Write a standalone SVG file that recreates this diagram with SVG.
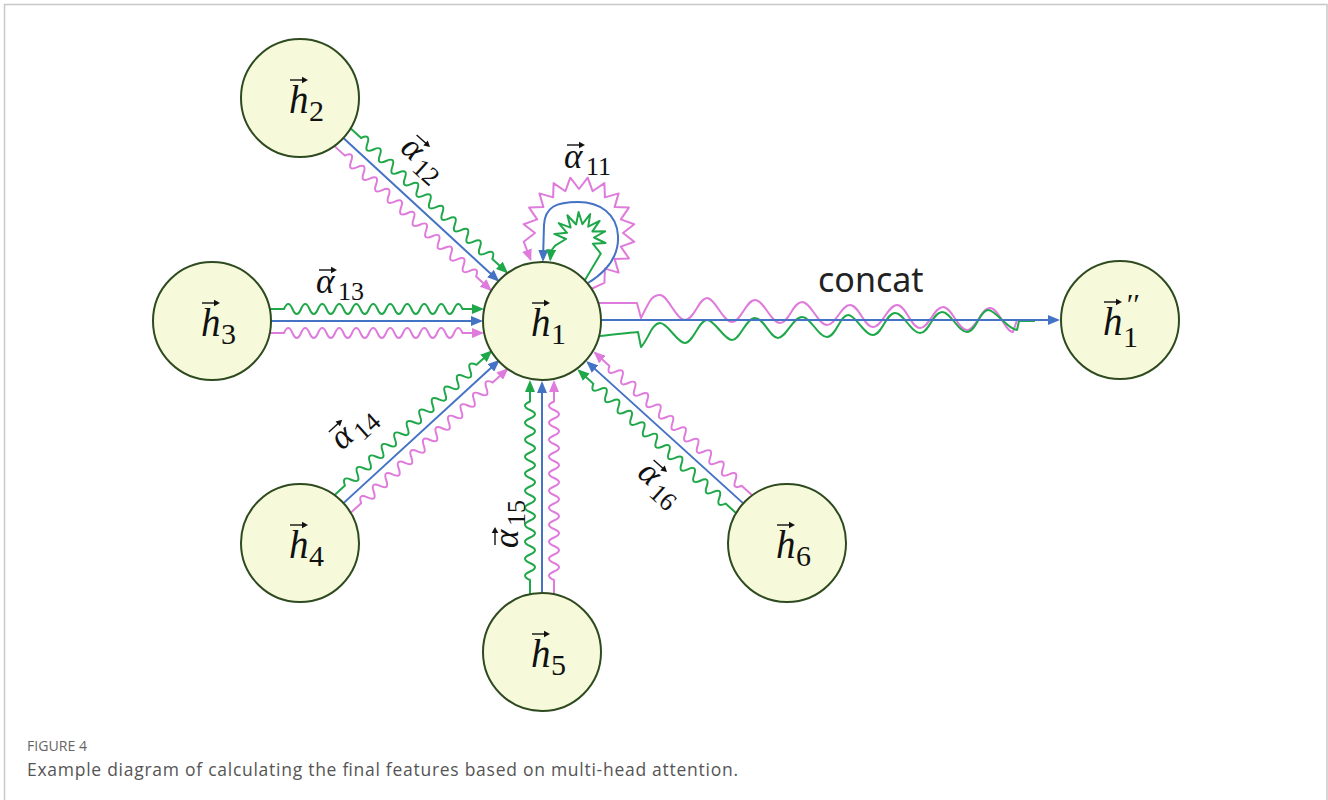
<svg xmlns="http://www.w3.org/2000/svg" xmlns:xlink="http://www.w3.org/1999/xlink" width="1328" height="800" viewBox="0 0 1328 800">
  <style>
    .node circle { fill: #f6fadb; stroke: #2e4a1f; stroke-width: 2; }
    .hv { font-family: "Liberation Serif", "DejaVu Serif", serif; font-style: italic; font-size: 39px; fill: #111; }
    .hs { font-family: "Liberation Serif", "DejaVu Serif", serif; font-size: 30px; fill: #111; }
    .al { font-family: "Liberation Serif", "DejaVu Serif", serif; font-style: italic; font-size: 35px; fill: #111; }
    .as { font-family: "Liberation Serif", "DejaVu Serif", serif; font-size: 26px; fill: #111; }
    .blue { fill: none; stroke: #4472c4; stroke-width: 2; marker-end: url(#ah-blue); }
    .green { fill: none; stroke: #1fa84a; stroke-width: 2; stroke-linejoin: round; marker-end: url(#ah-green); }
    .pink { fill: none; stroke: #df7bdc; stroke-width: 2; stroke-linejoin: round; marker-end: url(#ah-pink); }
    .plain { marker-end: none; }
    .cap1 { font-family: "Open Sans", "Noto Sans", sans-serif; font-size: 15px; fill: #666; }
    .cap2 { font-family: "Open Sans", "Noto Sans", sans-serif; font-size: 17.5px; fill: #555; }
  </style>
  <defs>
    <marker id="ah-blue" viewBox="0 0 12 10" refX="10" refY="5" markerWidth="12" markerHeight="10" markerUnits="userSpaceOnUse" orient="auto">
      <path d="M0,0 L12,5 L0,10 Z" fill="#4472c4"/>
    </marker>
    <marker id="ah-green" viewBox="0 0 12 10" refX="10" refY="5" markerWidth="12" markerHeight="10" markerUnits="userSpaceOnUse" orient="auto">
      <path d="M0,0 L12,5 L0,10 Z" fill="#1fa84a"/>
    </marker>
    <marker id="ah-pink" viewBox="0 0 12 10" refX="10" refY="5" markerWidth="12" markerHeight="10" markerUnits="userSpaceOnUse" orient="auto">
      <path d="M0,0 L12,5 L0,10 Z" fill="#df7bdc"/>
    </marker>
    <!-- vector arrow placed over a symbol -->
    <g id="vec">
      <path d="M0,0 H14" stroke="#111" stroke-width="1.4" fill="none"/>
      <path d="M12,-3.3 L18,0 L12,3.3 Z" fill="#111"/>
    </g>
    <!-- one incoming spoke in its own frame: source centre at (0,0), h1 centre at (330,0) -->
    <g id="spoke">
      <path class="green" d="M58,-12 H72 q4.25,-10 8.5,0 t8.5,0 t8.5,0 t8.5,0 t8.5,0 t8.5,0 t8.5,0 t8.5,0 t8.5,0 t8.5,0 t8.5,0 t8.5,0 t8.5,0 t8.5,0 t8.5,0 t8.5,0 t8.5,0 t8.5,0 t8.5,0 t8.5,0 t8.5,0 L270,-12"/>
      <path class="blue" d="M59,0 H269"/>
      <path class="pink" d="M58,12 H72 q4.25,-10 8.5,0 t8.5,0 t8.5,0 t8.5,0 t8.5,0 t8.5,0 t8.5,0 t8.5,0 t8.5,0 t8.5,0 t8.5,0 t8.5,0 t8.5,0 t8.5,0 t8.5,0 t8.5,0 t8.5,0 t8.5,0 t8.5,0 t8.5,0 t8.5,0 L270,12"/>
    </g>
  </defs>

  <rect x="0" y="0" width="1328" height="800" fill="#ffffff"/>
  <rect x="4.5" y="4.5" width="1322.5" height="900" fill="none" stroke="#c8c8c8" stroke-width="1.5"/>

  <g id="connectors">
    <use href="#spoke" xlink:href="#spoke" transform="translate(300,98) rotate(42.66)"/>
    <use href="#spoke" xlink:href="#spoke" transform="translate(212,321)"/>
    <use href="#spoke" xlink:href="#spoke" transform="translate(300,543) rotate(-42.53)"/>
    <use href="#spoke" xlink:href="#spoke" transform="translate(542,652) rotate(-90)"/>
    <use href="#spoke" xlink:href="#spoke" transform="translate(787,543) rotate(-137.82)"/>

    <!-- self attention loop on h1 -->
    <path class="pink" d="M591,289 L604.4,282.9 L604.9,268.6 L618.6,272.6 L614.6,258.9 L628.9,258.4 L620.8,246.6 L634.3,241.7 L623,233 L634.3,224.3 L620.8,219.4 L628.9,207.6 L614.6,207.1 L618.6,193.4 L604.9,197.4 L604.4,183.1 L592.6,191.2 L587.7,177.7 L579,189 L570.3,177.7 L565.4,191.2 L553.6,183.1 L553.1,197.4 L539.4,193.4 L543.4,207.1 L529.1,207.6 L537.2,219.4 L523.7,224.3 L535,233 L523.7,241.7 L530.5,259.5"/>
    <path class="blue" d="M588,283 C606,272 619,256 618,236 C617,214 600,202 578,202 C556,202 545,207 544,225 L543,260"/>
    <path class="green" d="M585,280 L600.8,253.6 L592.8,243.7 L605.5,243 L594,237.5 L605.1,231.3 L592.4,231.4 L599.6,220.9 L588.2,226.7 L590.2,214.1 L582.4,224.2 L578.6,212 L576.1,224.5 L567.4,215.3 L570.6,227.6 L558.7,223.1 L567,232.8 L554.3,233.9 L566,239 L555.1,245.6 L551,251 L550.3,259.5"/>

    <!-- concatenated output h1 -> h1'' -->
    <path class="pink plain" d="M598,303 H637 L641,318 C650,300 652,295 660,295 S676,320 685,320 S699,298 707,298 S723,322 732,322 S746,300 755,300 S771,323 780,323 S793,302 802,302 S818,325 827,325 S841,305 850,305 S864,327 873,327 S888,305 897,305 S911,328 920,328 S934,307 943,307 S958,330 967,330 S981,308 990,308 S1005,332 1013,332 L1017,320 L1035,320"/>
    <path class="green plain" d="M600,336 C615,334 630,333 638,332 L641,347 C648,340 652,323 660,323 S677,343 685,343 S699,320 707,320 S724,340 732,340 S746,318 755,318 S770,338 778,338 S793,317 802,317 S818,337 827,337 S840,315 848,315 S864,335 873,335 S886,313 895,313 S911,333 920,333 S933,312 942,312 S958,332 967,332 S980,310 988,310 S1008,330 1017,330 L1019,321 L1035,321"/>
    <path class="blue" d="M601,320 H1058"/>
  </g>

  <g id="edge-labels">
    <g id="label-a11" transform="translate(564,168)">
      <use href="#vec" xlink:href="#vec" transform="translate(3,-23)"/>
      <text class="al" x="0" y="0">α</text>
      <text class="as" x="22" y="7">11</text>
    </g>
    <g id="label-a12" transform="translate(399,150) rotate(42)">
      <use href="#vec" xlink:href="#vec" transform="translate(3,-23)"/>
      <text class="al" x="0" y="0">α</text>
      <text class="as" x="22" y="7">12</text>
    </g>
    <g id="label-a13" transform="translate(316,293)">
      <use href="#vec" xlink:href="#vec" transform="translate(3,-23)"/>
      <text class="al" x="0" y="0">α</text>
      <text class="as" x="22" y="7">13</text>
    </g>
    <g id="label-a14" transform="translate(342,451) rotate(-42)">
      <use href="#vec" xlink:href="#vec" transform="translate(3,-23)"/>
      <text class="al" x="0" y="0">α</text>
      <text class="as" x="22" y="7">14</text>
    </g>
    <g id="label-a15" transform="translate(518,548) rotate(-90)">
      <use href="#vec" xlink:href="#vec" transform="translate(3,-23)"/>
      <text class="al" x="0" y="0">α</text>
      <text class="as" x="22" y="7">15</text>
    </g>
    <g id="label-a16" transform="translate(636,475) rotate(42)">
      <use href="#vec" xlink:href="#vec" transform="translate(3,-23)"/>
      <text class="al" x="0" y="0">α</text>
      <text class="as" x="22" y="7">16</text>
    </g>
    <text id="label-concat" x="818" y="292" font-family="'Noto Sans', 'Open Sans', sans-serif" font-size="34" fill="#222">concat</text>
  </g>

  <g id="node-h2" class="node">
    <circle cx="300" cy="98" r="59"/>
    <use href="#vec" xlink:href="#vec" transform="translate(290,80)"/>
    <text class="hv" x="289" y="113">h</text>
    <text class="hs" x="309" y="121">2</text>
  </g>
  <g id="node-h3" class="node">
    <circle cx="212" cy="321" r="59"/>
    <use href="#vec" xlink:href="#vec" transform="translate(202,303)"/>
    <text class="hv" x="201" y="336">h</text>
    <text class="hs" x="221" y="344">3</text>
  </g>
  <g id="node-h1" class="node">
    <circle cx="542" cy="321" r="59"/>
    <use href="#vec" xlink:href="#vec" transform="translate(532,303)"/>
    <text class="hv" x="531" y="336">h</text>
    <text class="hs" x="551" y="344">1</text>
  </g>
  <g id="node-h4" class="node">
    <circle cx="300" cy="543" r="59"/>
    <use href="#vec" xlink:href="#vec" transform="translate(290,525)"/>
    <text class="hv" x="289" y="558">h</text>
    <text class="hs" x="309" y="566">4</text>
  </g>
  <g id="node-h5" class="node">
    <circle cx="542" cy="652" r="59"/>
    <use href="#vec" xlink:href="#vec" transform="translate(532,634)"/>
    <text class="hv" x="531" y="667">h</text>
    <text class="hs" x="551" y="675">5</text>
  </g>
  <g id="node-h6" class="node">
    <circle cx="787" cy="543" r="59"/>
    <use href="#vec" xlink:href="#vec" transform="translate(777,525)"/>
    <text class="hv" x="776" y="558">h</text>
    <text class="hs" x="796" y="566">6</text>
  </g>
  <g id="node-h1pp" class="node">
    <circle cx="1120" cy="320" r="59"/>
    <use href="#vec" xlink:href="#vec" transform="translate(1104,302)"/>
    <text class="hv" x="1103" y="335">h</text>
    <text class="hs" x="1125" y="314" font-size="28" font-style="italic">′′</text>
    <text class="hs" x="1123" y="347" font-size="26">1</text>
  </g>

  <g id="caption">
    <text class="cap1" x="27" y="751" textLength="60" lengthAdjust="spacingAndGlyphs">FIGURE 4</text>
    <text class="cap2" x="27" y="776" textLength="711" lengthAdjust="spacing">Example diagram of calculating the final features based on multi-head attention.</text>
  </g>
</svg>
